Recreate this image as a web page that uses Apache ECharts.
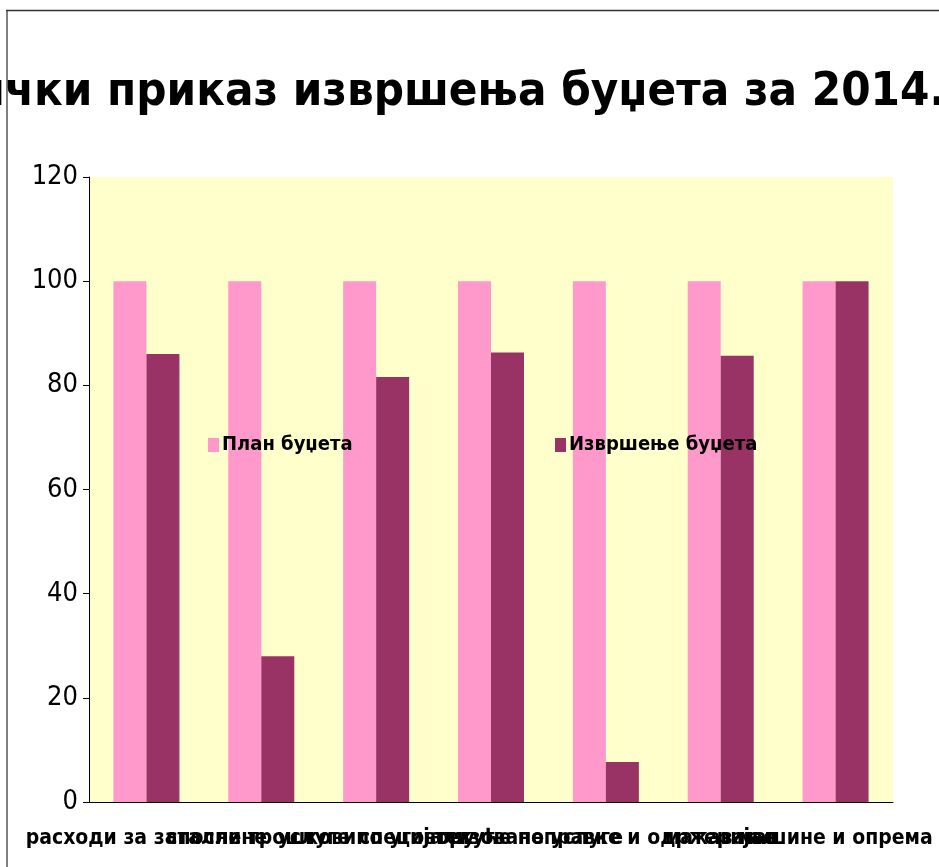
<!DOCTYPE html>
<html>
<head>
    <meta charset="utf-8">
    <title>Графички приказ извршења буџета за 2014.</title>
    <script src="https://cdn.jsdelivr.net/npm/echarts@6/dist/echarts.min.js"></script>
    <style>
        html, body { margin: 0; padding: 0; background: #fff; }
    </style>
</head>
<body>
<div id="main" style="width: 939px;height:867px;"></div>
<script type="text/javascript">
    // подаци
    var categories = ['расходи за запослене', 'стални трошкови', 'услуге по уговору', 'специјализоване услуге',
        'текуће поправке и одржавање', 'материјал', 'машине и опрема'];
    var planBudzeta = [100, 100, 100, 100, 100, 100, 100];
    var izvrsenjeBudzeta = [86, 28, 81.6, 86.3, 7.7, 85.7, 100];
    var yTicks = [0, 20, 40, 60, 80, 100, 120];

    var titleText = 'Графички приказ извршења буџета за 2014. годину';
    var titleFont = 'bold 47px "DejaVu Sans Condensed"';

    // колико је наслов одсечен с леве стране
    var ctx = document.createElement('canvas').getContext('2d');
    ctx.font = titleFont;
    var cutLeft = ctx.measureText('Графи').width;

    var narrow = '"DejaVu Sans Condensed", sans-serif';

    var myChart = echarts.init(document.getElementById('main'));
    var option = {
        animation: false,
        title: {
            text: titleText,
            left: -cutLeft,
            top: 64,
            textStyle: {
                fontFamily: '"DejaVu Sans Condensed"',
                fontWeight: 'bold',
                fontSize: 47,
                color: '#000'
            }
        },
        legend: [{
            data: ['План буџета'],
            left: 203, top: 430,
            icon: 'rect',
            itemWidth: 11, itemHeight: 14, itemGap: 0,
            textStyle: { fontFamily: narrow, fontWeight: 'bold', fontSize: 20, color: '#000', padding: [0, 0, 0, -2] }
        }, {
            data: ['Извршење буџета'],
            left: 550, top: 430,
            icon: 'rect',
            itemWidth: 11, itemHeight: 14, itemGap: 0,
            textStyle: { fontFamily: narrow, fontWeight: 'bold', fontSize: 20, color: '#000', padding: [0, 0, 0, -2] }
        }],
        grid: {
            left: 89, right: 46, top: 177, bottom: 65,
            show: true, backgroundColor: '#FFFFCC', borderWidth: 0
        },
        xAxis: {
            type: 'category',
            data: categories,
            axisLine: { lineStyle: { color: '#000', width: 1 } },
            axisTick: { length: 8, lineStyle: { color: '#000' } },
            axisLabel: {
                interval: 0,
                margin: 26,
                fontFamily: narrow,
                fontWeight: 'bold',
                fontSize: 21,
                color: '#000',
                hideOverlap: false
            }
        },
        yAxis: {
            type: 'value',
            min: 0, max: 120, interval: 20,
            axisLine: { show: true, lineStyle: { color: '#000', width: 1 } },
            axisTick: { show: true, length: 6, lineStyle: { color: '#000' } },
            splitLine: { show: false },
            axisLabel: {
                margin: 11,
                fontFamily: narrow,
                fontSize: 27,
                color: '#000',
                formatter: function (v) { return yTicks.indexOf(v) >= 0 ? String(v) : ''; }
            }
        },
        series: [{
            name: 'План буџета',
            type: 'bar',
            data: planBudzeta,
            barWidth: 33,
            barGap: '0%',
            itemStyle: { color: '#FF99CC' }
        }, {
            name: 'Извршење буџета',
            type: 'bar',
            data: izvrsenjeBudzeta,
            barWidth: 33,
            itemStyle: { color: '#993366' }
        }],
        graphic: [{
            type: 'line',
            shape: { x1: 7, y1: 10, x2: 7, y2: 867 },
            style: { stroke: '#808080', lineWidth: 2 }
        }, {
            type: 'line',
            shape: { x1: 6, y1: 10.5, x2: 939, y2: 10.5 },
            style: { stroke: '#333', lineWidth: 1.5 }
        }]
    };
    myChart.setOption(option);
</script>
</body>
</html>
